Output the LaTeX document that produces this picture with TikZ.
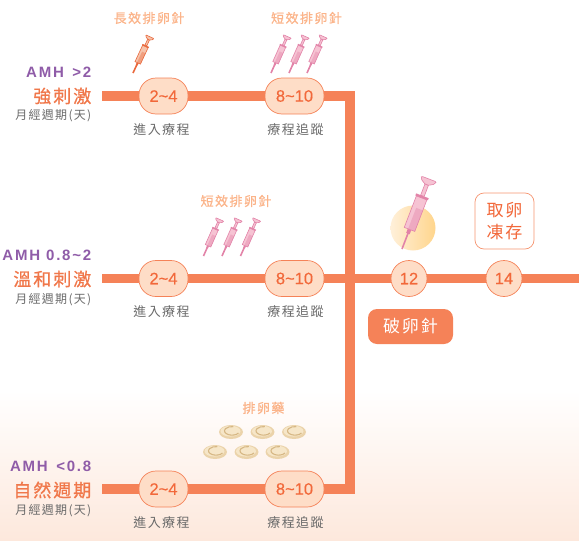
\documentclass[tikz,border=0pt]{standalone}
\usepackage{fontspec}
\setmainfont{Liberation Sans}
\newfontfamily\cjk[LetterSpace=11]{Noto Sans CJK TC}
\newfontfamily\cjkb[LetterSpace=11,FakeBold=0.8]{Noto Sans CJK TC}
\newfontfamily\latinsp[LetterSpace=12]{Liberation Sans}
\newfontfamily\numf[FakeBold=0.3]{Liberation Sans}
\usetikzlibrary{backgrounds}
\definecolor{barc}{HTML}{F58258}
\definecolor{numc}{HTML}{F2683A}
\definecolor{fillc}{HTML}{FEDDC7}
\definecolor{peach}{HTML}{FBB48A}
\definecolor{amhc}{HTML}{8F5CA8}
\definecolor{titlec}{HTML}{F0774A}
\definecolor{grayc}{HTML}{6A6A6A}
\definecolor{bgc}{HTML}{FDE8DC}
\definecolor{pink}{HTML}{E283A8}
\definecolor{pinkf}{HTML}{F6C3D3}
\definecolor{oran}{HTML}{E9683C}
\definecolor{oranf}{HTML}{F6C4AC}
\definecolor{pilld}{HTML}{EBD3AA}
\definecolor{pilll}{HTML}{F6E6C8}
\definecolor{pilla}{HTML}{D6B784}
\definecolor{circl}{HTML}{FFF0DA}
\definecolor{circr}{HTML}{FFD58C}
\pgfdeclareverticalshading{nothing}{100bp}{color(0bp)=(white); color(100bp)=(white)}
\pgfdeclarehorizontalshading{sunglow}{100bp}{color(0bp)=(circl); color(25bp)=(circl); color(75bp)=(circr); color(100bp)=(circr)}
\tikzset{
  bar/.style={draw=barc,line width=9.5pt,line cap=butt,line join=miter},
  pillbox/.style={draw=barc,line width=0.7pt,fill=fillc,rounded corners=17pt,inner sep=0pt,text=numc,font=\numf\fontsize{16.5}{16.5}\selectfont},
  shortbox/.style={pillbox,minimum width=49pt,minimum height=36pt},
  longbox/.style={pillbox,minimum width=59pt,minimum height=36pt},
  daycirc/.style={circle,draw=barc,line width=0.7pt,fill=fillc,minimum size=36pt,inner sep=0pt,text=numc,font=\numf\fontsize{16.5}{16.5}\selectfont},
  steplabel/.style={text=grayc,font=\cjk\fontsize{13}{13}\selectfont,inner sep=0pt},
  druglabel/.style={text=peach,font=\cjkb\fontsize{13}{13}\selectfont,inner sep=0pt},
  amh/.style={anchor=east,text=amhc,font=\latinsp\bfseries\fontsize{15}{15}\selectfont,inner sep=0pt},
  protocol/.style={anchor=east,text=titlec,font=\cjkb\fontsize{18}{18}\selectfont,inner sep=0pt},
  daysub/.style={anchor=east,text=grayc,font=\cjk\fontsize{12}{12}\selectfont,inner sep=0pt},
}
\newcommand{\syr}[6]{%
  \begin{scope}[shift={(#1,#2)},x=1pt,y=1pt,rotate=#3,scale=#4]
    \draw[#5,line width=1.6pt] (0,0) -- (24,0);
    \fill[#5] (22,-2.5) rectangle (28,2.5);
    \draw[#5,fill=#6,line width=0.6pt] (28,-7.5) rectangle (73,7.5);
    \fill[#5,opacity=.4] (28,-7.5) rectangle (58,2);
    \fill[#5] (73,-9) rectangle (76,9);
    \fill[#6] (76,-2.5) rectangle (92,2.5);
    \draw[#5,line width=0.6pt] (76,-2.5) rectangle (92,2.5);
    \draw[#5,fill=#6,line width=0.6pt] (92,-2.5) .. controls (95,-8) and (96,-10) .. (99,-10.5) -- (100,-9) -- (100,9) -- (99,10.5) .. controls (96,10) and (95,8) .. (92,2.5) -- cycle;
  \end{scope}}
\newcommand{\pill}[2]{%
  \fill[pilld] (#1,#2) ellipse [x radius=12pt,y radius=7pt];
  \fill[pilll] (#1-0.5,#2-0.8) ellipse [x radius=10pt,y radius=5.4pt];
  \draw[pilla,line width=1.1pt] (#1+7.5,#2+1) arc [start angle=-30,end angle=-280,x radius=7.5pt,y radius=4.3pt];}
\begin{document}
\begin{tikzpicture}[x=1pt,y=-1pt]
\useasboundingbox (0,0) rectangle (579,541);
% top row
\node[shortbox] (a1) at (163.5,96) {2\textasciitilde 4};
\node[longbox] (b1) at (294.5,96) {8\textasciitilde 10};
\coordinate (s1) at (102,96);
\coordinate (c1) at (350.2,96);
% middle row
\node[shortbox] (a2) at (163.5,278.5) {2\textasciitilde 4};
\node[longbox] (b2) at (294.5,278.5) {8\textasciitilde 10};
\node[daycirc] (d12) at (409,278.5) {12};
\node[daycirc] (d14) at (504,278.5) {14};
\coordinate (s2) at (102,278.5);
\coordinate (e2) at (579,278.5);
% bottom row
\node[shortbox] (a3) at (163.5,489) {2\textasciitilde 4};
\node[longbox] (b3) at (294.5,489) {8\textasciitilde 10};
\coordinate (s3) at (102,489);
\coordinate (c3) at (350.2,489);
\begin{scope}[on background layer]
  \fill[top color=white,bottom color=bgc] (0,390) rectangle (579,541);
  \draw[bar] (s1) -- (a1);
  \draw[bar] (a1) -- (b1);
  \draw[bar] (b1) -- (c1) -- (c3) -- (b3);
  \draw[bar] (a3) -- (b3);
  \draw[bar] (s3) -- (a3);
  \draw[bar] (s2) -- (a2);
  \draw[bar] (a2) -- (b2);
  \draw[bar] (b2) -- (d12);
  \draw[bar] (d12) -- (d14);
  \draw[bar] (d14) -- (e2);
\end{scope}
% left labels
\node[amh] (amh1) at (91.5,72) {AMH \,>2};
\node[protocol] (t1) at (91.5,96) {強刺激};
\node[daysub] (u1) at (91.5,116) {月經週期(天)};
\node[amh] (amh2) at (91.5,255) {AMH 0.8\textasciitilde 2};
\node[protocol] (t2) at (91.5,279) {溫和刺激};
\node[daysub] (u2) at (91.5,300) {月經週期(天)};
\node[amh] (amh3) at (91.5,466) {AMH \,<0.8};
\node[protocol] (t3) at (91.5,490) {自然週期};
\node[daysub] (u3) at (91.5,511) {月經週期(天)};
% step labels
\node[steplabel] (l1a) at (161.5,129.5) {進入療程};
\node[steplabel] (l1b) at (295.5,129.5) {療程追蹤};
\node[steplabel] (l2a) at (161.5,311.5) {進入療程};
\node[steplabel] (l2b) at (295.5,311.5) {療程追蹤};
\node[steplabel] (l3a) at (161.5,522.5) {進入療程};
\node[steplabel] (l3b) at (295.5,522.5) {療程追蹤};
% drug labels
\node[druglabel] (dr1) at (149,18) {長效排卵針};
\node[druglabel] (dr2) at (306.5,18) {短效排卵針};
\node[druglabel] (dr3) at (236,201) {短效排卵針};
\node[druglabel] (dr4) at (263.5,408) {排卵藥};
% syringes
\syr{133}{73}{65}{0.4}{oran}{oranf}
\foreach \dx in {0,18,36}{\syr{271+\dx}{73}{66}{0.4}{pink}{pinkf}}
\foreach \dx in {0,18.5,37}{\syr{203.5+\dx}{256}{66}{0.4}{pink}{pinkf}}
% pills
\foreach \px in {231,262.5,294}{\pill{\px}{432}}
\foreach \px in {215,246.5,277.5}{\pill{\px}{452}}
% right side
\shade[shading=sunglow] (413,228) circle [radius=22.5pt];
\syr{402}{249}{69}{0.75}{pink}{pinkf}
\node[draw=barc!85,line width=0.7pt,fill=white,rounded corners=9pt,minimum width=59pt,minimum height=56pt,inner sep=0pt,align=center,text=numc,font=\cjk\fontsize{17}{22}\selectfont] (freeze) at (504.5,221) {取卵\\凍存};
\node[fill=barc,rounded corners=9pt,minimum width=85pt,minimum height=35pt,inner sep=0pt,text=white,font=\cjk\fontsize{17}{17}\selectfont] (trig) at (410.5,326.5) {破卵針};
\end{tikzpicture}
\end{document}
